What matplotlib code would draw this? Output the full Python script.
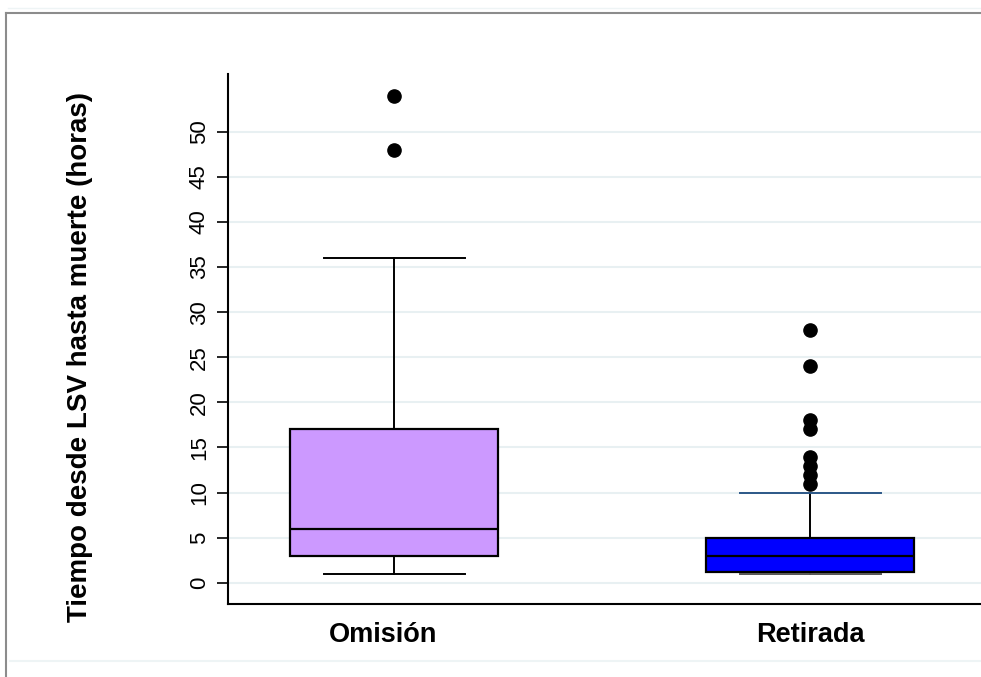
import matplotlib.pyplot as plt
import matplotlib.transforms as mtransforms
from matplotlib.lines import Line2D

plt.rcParams['font.family'] = ['Liberation Sans', 'DejaVu Sans']

# datos
grupos = ["Omisión", "Retirada"]
q1 = [3, 1.25]
mediana = [6, 3]
q3 = [17, 5]
bigote_inf = [1, 1]
bigote_sup = [36, 10]
atipicos = [[48, 54], [11, 12, 13, 14, 17, 18, 24, 28]]
colores = ["#cc99ff", "#0000ff"]

stats = []
for i in range(len(grupos)):
    stats.append({"label": grupos[i], "q1": q1[i], "med": mediana[i], "q3": q3[i],
                  "whislo": bigote_inf[i], "whishi": bigote_sup[i], "fliers": atipicos[i]})

fig = plt.figure(figsize=(9.81, 6.77), dpi=100)
ax = fig.add_axes([228 / 981, 73 / 677, 753 / 981, 530 / 677])

bp = ax.bxp(stats, positions=[1, 2], widths=0.5, patch_artist=True, capwidths=0.34,
            boxprops=dict(linewidth=1.6, edgecolor="black"),
            medianprops=dict(color="black", linewidth=1.6),
            whiskerprops=dict(color="black", linewidth=1.4),
            capprops=dict(color="black", linewidth=1.4),
            flierprops=dict(marker="o", markerfacecolor="black", markeredgecolor="black",
                            markersize=9.5, linestyle="none"))
for caja, c in zip(bp["boxes"], colores):
    caja.set_facecolor(c)
bp["caps"][3].set_color("#2b5788")
bp["caps"][2].set_color("#555555")

ax.set_xlim(0.6, 2.41)
ax.set_ylim(-2.35, 56.4)
ax.set_yticks(range(0, 55, 5))
ax.tick_params(axis="y", labelsize=16, length=8, width=1.2, labelrotation=90, pad=5)
for t in ax.get_yticklabels():
    t.set_va("center")
ax.tick_params(axis="x", length=0, labelsize=19.5, pad=13)
for t in ax.get_xticklabels():
    t.set_fontweight("bold")
# en el original la primera etiqueta esta un poco a la izquierda
desplaza = mtransforms.ScaledTranslation(-11 / 100, 0, fig.dpi_scale_trans)
lab0 = ax.get_xticklabels()[0]
lab0.set_transform(lab0.get_transform() + desplaza)

ax.yaxis.grid(True, color="#e8f0f2", linewidth=1.5)
ax.set_axisbelow(True)
for s in ["top", "right"]:
    ax.spines[s].set_visible(False)
ax.spines["left"].set_linewidth(1.5)
ax.spines["bottom"].set_linewidth(1.5)
ax.set_ylabel("Tiempo desde LSV hasta muerte (horas)", fontsize=20, fontweight="bold")
ax.yaxis.set_label_coords(-0.179, 0.466)

# marco exterior
fig.add_artist(Line2D([6 / 981, 1], [1 - 13 / 677, 1 - 13 / 677], color="#8c8c8c", linewidth=1.5))
fig.add_artist(Line2D([6 / 981, 6 / 981], [0, 1 - 13 / 677], color="#8c8c8c", linewidth=1.5))
fig.add_artist(Line2D([8 / 981, 1], [1 - 8 / 677, 1 - 8 / 677], color="#eef4f5", linewidth=1))
fig.add_artist(Line2D([10 / 981, 1], [16 / 677, 16 / 677], color="#eef4f5", linewidth=1.5))

fig.savefig("out.png", dpi=100)
